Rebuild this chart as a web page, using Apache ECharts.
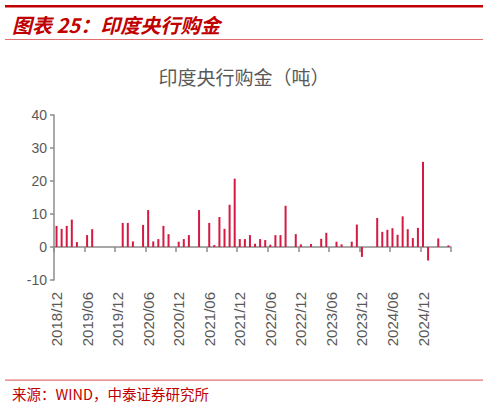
<!DOCTYPE html>
<html>
<head>
<meta charset="utf-8">
<script src="https://cdn.jsdelivr.net/npm/echarts@6/dist/echarts.min.js"></script>
<style>
html,body{margin:0;padding:0;background:#fff;}
#chart{width:488px;height:404px;}
</style>
</head>
<body>
<div id="chart"></div>
<script>
var months = [
 '2018/12','2019/01','2019/02','2019/03','2019/04','2019/05','2019/06','2019/07','2019/08','2019/09','2019/10','2019/11',
 '2019/12','2020/01','2020/02','2020/03','2020/04','2020/05','2020/06','2020/07','2020/08','2020/09','2020/10','2020/11',
 '2020/12','2021/01','2021/02','2021/03','2021/04','2021/05','2021/06','2021/07','2021/08','2021/09','2021/10','2021/11',
 '2021/12','2022/01','2022/02','2022/03','2022/04','2022/05','2022/06','2022/07','2022/08','2022/09','2022/10','2022/11',
 '2022/12','2023/01','2023/02','2023/03','2023/04','2023/05','2023/06','2023/07','2023/08','2023/09','2023/10','2023/11',
 '2023/12','2024/01','2024/02','2024/03','2024/04','2024/05','2024/06','2024/07','2024/08','2024/09','2024/10','2024/11',
 '2024/12','2025/01','2025/02','2025/03','2025/04','2025/05'
];
var purchases = [
 6.4, 5.5, 6.4, 8.3, 1.5, 0, 3.6, 5.4, 0, 0, 0, 0,
 0, 7.3, 7.3, 1.7, 0, 6.7, 11.2, 1.7, 2.4, 6.4, 3.9, 0,
 1.6, 2.4, 3.6, 0, 11.2, 0, 7.3, 0.6, 9.1, 5.5, 12.8, 20.7,
 2.4, 2.4, 3.6, 1.0, 2.4, 2.1, 0.7, 3.6, 3.6, 12.5, 0, 3.9,
 0.8, 0, 0.9, 0, 2.5, 4.3, 0, 1.6, 0.8, 0, 1.6, 6.8,
 -3.0, 0, 0, 8.8, 4.6, 5.2, 5.7, 3.7, 9.3, 5.4, 2.7, 5.8,
 25.8, -4.1, 0, 2.6, 0, 0.5
];
var yTicks = [-10, 0, 10, 20, 30, 40];

var chart = echarts.init(document.getElementById('chart'), null, {renderer: 'svg'});
var FONT = '"Liberation Sans", Arial, "Noto Sans CJK SC", sans-serif';
chart.setOption({
  animation: false,
  backgroundColor: '#fff',
  title: [
    {text: '图表 25：印度央行购金', left: 7, top: 9,
     textStyle: {color: '#c00000', fontSize: 20, fontWeight: 'bold', fontStyle: 'italic', fontFamily: '"Noto Sans CJK SC", sans-serif'}},
    {text: '印度央行购金（吨）', left: 'center', top: 62,
     textStyle: {color: '#595959', fontSize: 19, fontWeight: 'normal', fontFamily: '"Noto Sans CJK SC", sans-serif'}},
    {text: '来源：WIND，中泰证券研究所', left: 7, top: 381,
     textStyle: {color: '#c00000', fontSize: 14.5, fontWeight: 'normal', fontFamily: '"Noto Sans CJK SC", sans-serif'}}
  ],
  graphic: [
    {type: 'rect', shape: {x: 5, y: 5, width: 478, height: 2.5}, style: {fill: '#c00000'}},
    {type: 'rect', shape: {x: 5, y: 39, width: 478, height: 1}, style: {fill: '#e07070'}},
    {type: 'rect', shape: {x: 5, y: 379.5, width: 478, height: 1.2}, style: {fill: '#e07070'}}
  ],
  grid: {left: 54, right: 37, top: 115, bottom: 124, containLabel: false},
  xAxis: {
    type: 'category',
    data: months,
    boundaryGap: true,
    axisLine: {show: true, onZero: true, lineStyle: {color: '#8c8c8c', width: 1.5}},
    axisTick: {show: true, length: 5, inside: false, interval: 5, lineStyle: {color: '#8c8c8c', width: 1.5}},
    axisLabel: {interval: 5, rotate: 90, margin: 12, color: '#595959', fontSize: 15, fontFamily: FONT}
  },
  yAxis: {
    type: 'value',
    min: yTicks[0], max: yTicks[yTicks.length - 1], interval: 10,
    axisLine: {show: true, lineStyle: {color: '#8c8c8c', width: 1.5}},
    axisTick: {show: true, length: 4, lineStyle: {color: '#8c8c8c', width: 1.5}},
    splitLine: {show: false},
    axisLabel: {color: '#595959', fontSize: 14, margin: 7, fontFamily: FONT}
  },
  series: [{
    type: 'bar',
    data: purchases,
    barWidth: 2,
    itemStyle: {color: '#d41a42'}
  }]
});
</script>
</body>
</html>
